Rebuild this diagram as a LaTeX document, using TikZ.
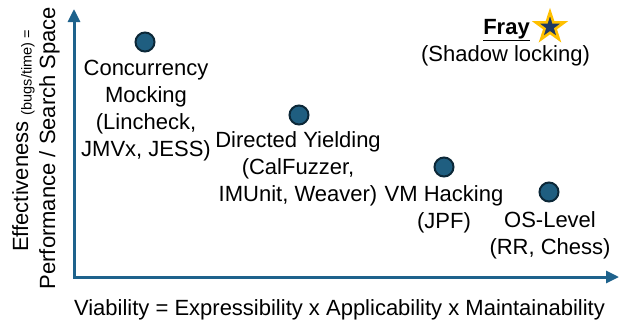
\documentclass[tikz,border=0pt]{standalone}
\usepackage{fontspec}
\setmainfont{Liberation Sans}
\usetikzlibrary{arrows.meta,shapes.geometric}
\definecolor{axisblue}{RGB}{30,98,140}
\definecolor{dotfill}{RGB}{31,94,128}
\definecolor{dotline}{RGB}{12,40,56}
\definecolor{stargold}{RGB}{255,192,0}
\definecolor{starnavy}{RGB}{31,56,100}
\begin{document}
\begin{tikzpicture}[x=1pt,y=-1pt,
  axisline/.style={draw=axisblue,line width=3pt,line join=miter,
    {Triangle[length=13pt,width=12pt]}-{Triangle[length=13pt,width=12pt]}},
  tooldot/.style={circle,fill=dotfill,draw=dotline,line width=2pt,minimum size=19pt,inner sep=0pt},
  lbl/.style={font=\fontsize{22}{27.3}\selectfont,align=center,inner sep=0pt,anchor=base},
  fraystar/.style={star,star points=5,star point ratio=2.6,fill=starnavy,draw=stargold,
    line width=2.6pt,minimum size=30pt,inner sep=0pt}]
\useasboundingbox (0,0) rectangle (621,322);
% axes
\coordinate (ytip) at (74,9);
\coordinate (origin) at (74,277);
\coordinate (xtip) at (619,277);
\draw[axisline] (ytip) -- (origin) -- (xtip);
% axis labels
\node[lbl] (xlabel) at (339.5,315) {Viability = Expressibility x Applicability x Maintainability};
\node[lbl,rotate=90] (ylabel1) at (28,141) {Effectiveness {\fontsize{14.5}{14.5}\selectfont\raisebox{-3.5pt}{(bugs/time) =}}};
\node[lbl,rotate=90] (ylabel2) at (55,148) {Performance / Search Space};
% dots
\node[tooldot] (cm) at (145,42) {};
\node[tooldot] (dy) at (299,115) {};
\node[tooldot] (vm) at (444,167) {};
\node[tooldot] (os) at (549,192) {};
% labels (base = baseline of the last line)
\node[lbl] (cmlbl) at (146,156.9) {Concurrency\\Mocking\\(Lincheck,\\JMVx, JESS)};
\node[lbl] (dylbl) at (298,201.6) {Directed Yielding\\(CalFuzzer,\\IMUnit, Weaver)};
\node[lbl] (vmlbl) at (444,228.3) {VM Hacking\\(JPF)};
\node[lbl] (oslbl) at (550,254.3) {OS-Level\\(RR, Chess)};
% Fray
\node[lbl,font=\fontsize{22}{27.3}\selectfont\bfseries] (fray) at (506.5,34) {\underline{Fray}};
\node[fraystar] (star) at (550,27) {};
\node[lbl] (shadow) at (505.5,61) {(Shadow locking)};
\end{tikzpicture}
\end{document}
